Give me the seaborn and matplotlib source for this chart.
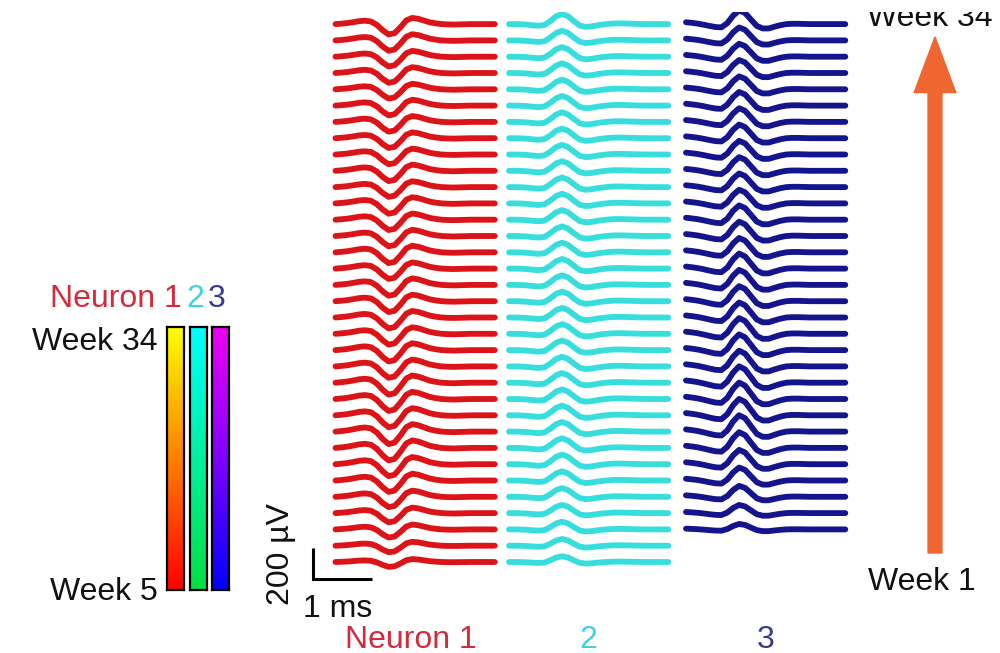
import numpy as np
import pandas as pd
import matplotlib
matplotlib.use("Agg")
import matplotlib.pyplot as plt
from matplotlib.colors import LinearSegmentedColormap
from matplotlib.transforms import Bbox
import seaborn as sns

# ---------------------------------------------------------------- data
# sample times of each spike waveform (ms)
t_ms = [0.0, 0.1, 0.2, 0.3, 0.4, 0.5, 0.6, 0.7, 0.8, 0.9, 1.0, 1.1, 1.2, 1.3,
        1.4, 1.5, 1.6, 1.7, 1.8, 1.9, 2.0, 2.1, 2.2, 2.3, 2.4, 2.5, 2.6, 2.7]

# mean waveform templates (uV)
wave_n1 = [0, 3, 7, 13, 20, 23, 18, -5, -42, -70, -62, -22, 25, 42,
           36, 24, 12, 5, 0, -2, -3, -2, -1, 0, 0, 0, 0, 0]
wave_n2 = [0, 0, -1, -3, -7, -10, -6, 18, 48, 62, 48, 18, -9, -17,
           -14, -7, -2, 2, 4, 4, 3, 2, 1, 0, 0, 0, 0, 0]
wave_n3 = [12, 8, 3, -4, -12, -19, -21, 6, 55, 88, 72, 30, -12, -28,
           -28, -17, -7, 0, 2, 2, 1, 0, 0, 0, 0, 0, 0, 0]

# recording weeks for each neuron
weeks_n1 = list(range(1, 35))
weeks_n2 = list(range(1, 35))
weeks_n3 = list(range(3, 35))

# relative spike amplitude per recording week (week order, oldest first)
amp_n1 = [0.45, 0.6, 0.75, 0.85, 0.95, 1.05, 1.1, 1.15, 1.15, 1.1, 1.1, 1.1,
          1.05, 1.05, 1.0, 1.0, 1.0, 1.0, 0.95, 1.0, 0.95, 0.95, 0.95, 0.9,
          0.95, 0.9, 0.9, 0.9, 0.9, 0.85, 0.9, 0.9, 0.95, 0.95]
amp_n2 = [0.6, 0.7, 0.8, 0.85, 0.9, 0.95, 1.0, 1.0, 1.0, 1.0, 1.0, 1.0,
          1.0, 1.0, 1.0, 1.0, 1.0, 1.0, 1.0, 1.0, 1.0, 1.0, 1.0, 1.0,
          1.0, 1.0, 1.0, 1.0, 1.0, 1.0, 1.0, 1.0, 1.0, 1.05]
amp_n3 = [0.4, 0.6, 0.8, 0.95, 1.05, 1.15, 1.2, 1.2, 1.2, 1.2, 1.15, 1.15,
          1.15, 1.1, 1.1, 1.1, 1.1, 1.05, 1.05, 1.05, 1.0, 1.0, 1.0, 1.0,
          1.0, 1.0, 1.0, 0.95, 0.95, 0.95, 0.95, 1.0]

neuron_names = ["Neuron 1", "2", "3"]
neuron_colors = ["#dc1418", "#38dede", "#14148c"]
label_colors = ["#d42a3c", "#3fd2e0", "#3a3a8c"]

# ---------------------------------------------------------------- layout
W, H, DPI = 1000, 653, 100
PX_PER_MS = 59.0          # horizontal scale of the traces
PX_PER_UV = 31.0 / 200.0  # vertical scale of the traces
TOP_CLIP = 12             # panel top edge (px from top)
ROW_UV = 16.3 / PX_PER_UV  # vertical spacing between weekly traces
WEEK1_Y = (H - 562) / PX_PER_UV
col_start_ms = [335.5 / PX_PER_MS, 509.0 / PX_PER_MS, 686.0 / PX_PER_MS]

sns.set_style("white")
plt.rcParams["font.family"] = ["Liberation Sans", "DejaVu Sans"]
FS = 23

fig = plt.figure(figsize=(W / DPI, H / DPI), dpi=DPI)
ax = fig.add_axes([0, 0, 1, (H - TOP_CLIP) / H])
ax.set_xlim(0, W / PX_PER_MS)
ax.set_ylim(0, (H - TOP_CLIP) / PX_PER_UV)
ax.set_axis_off()

# long-form table of all weekly traces
rows = []
for name, wave, weeks, amps, x0 in zip(neuron_names,
                                       [wave_n1, wave_n2, wave_n3],
                                       [weeks_n1, weeks_n2, weeks_n3],
                                       [amp_n1, amp_n2, amp_n3],
                                       col_start_ms):
    for wk, a in zip(weeks, amps):
        base = WEEK1_Y + (wk - 1) * ROW_UV
        for t, v in zip(t_ms, wave):
            rows.append({"neuron": name, "trace": f"{name}-{wk}",
                         "x": x0 + t, "y": base + a * v})
df = pd.DataFrame(rows)

sns.lineplot(data=df, x="x", y="y", hue="neuron", units="trace",
             estimator=None, sort=False, palette=neuron_colors,
             hue_order=neuron_names, linewidth=4.2, legend=False, ax=ax)

# scale bar: 200 uV x 1 ms
sx, sy = 313 / PX_PER_MS, (H - 579) / PX_PER_UV
ax.plot([sx, sx, sx + 1.0], [sy + 200, sy, sy], color="black", lw=2.2,
        solid_capstyle="butt", solid_joinstyle="miter")


def fx(px):
    return px / W


def fy(py):
    return 1 - py / H


fig.text(fx(281), fy(554), "200 µV", rotation=90, ha="center", va="center",
         fontsize=FS, color="#111111")
fig.text(fx(303), fy(617), "1 ms", ha="left", va="baseline",
         fontsize=FS, color="#111111")

# neuron labels under the columns
for lx, name, c in zip([411, 588, 766], neuron_names, label_colors):
    fig.text(fx(lx), fy(648), name, ha="center", va="baseline",
             fontsize=FS, color=c)

# time arrow on the right
ax.annotate("", xy=(935, H - 37), xycoords="figure pixels",
            xytext=(935, H - 553), textcoords="figure pixels",
            arrowprops=dict(arrowstyle="simple,head_length=4.0,head_width=3.0,tail_width=1.0",
                            mutation_scale=10, color="#ef6630", shrinkA=0, shrinkB=0))
top_txt = fig.text(fx(993), fy(26), "Week 34", ha="right", va="baseline",
                   fontsize=FS, color="#111111")
top_txt.set_clip_box(Bbox([[0, 0], [W, H - TOP_CLIP]]))
top_txt.set_clip_on(True)
fig.text(fx(922), fy(590), "Week 1", ha="center", va="baseline",
         fontsize=FS, color="#111111")

# colour keys for the recording weeks
cmaps = [
    LinearSegmentedColormap.from_list("n1", ["#ff0000", "#ff8000", "#ffff00"]),
    LinearSegmentedColormap.from_list("n2", ["#00e040", "#00ffff"]),
    LinearSegmentedColormap.from_list("n3", ["#0000ff", "#8000ff", "#f000f0"]),
]
grad = np.linspace(0, 1, 256).reshape(-1, 1)
for (x0, x1), cm in zip([(167, 184), (190, 207), (212, 229)], cmaps):
    cax = fig.add_axes([fx(x0), fy(590), (x1 - x0) / W, (590 - 327) / H])
    cax.imshow(grad, cmap=cm, aspect="auto", origin="lower")
    cax.set_xticks([])
    cax.set_yticks([])
    for sp in cax.spines.values():
        sp.set_visible(True)
        sp.set_color("black")
        sp.set_linewidth(1.6)

fig.text(fx(182), fy(307), "Neuron 1", ha="right", va="baseline",
         fontsize=FS, color=label_colors[0])
fig.text(fx(195), fy(307), "2", ha="center", va="baseline",
         fontsize=FS, color=label_colors[1])
fig.text(fx(217), fy(307), "3", ha="center", va="baseline",
         fontsize=FS, color=label_colors[2])
fig.text(fx(158), fy(350), "Week 34", ha="right", va="baseline",
         fontsize=FS, color="#111111")
fig.text(fx(158), fy(600), "Week 5", ha="right", va="baseline",
         fontsize=FS, color="#111111")

fig.savefig("out.png", dpi=DPI, facecolor="white")
